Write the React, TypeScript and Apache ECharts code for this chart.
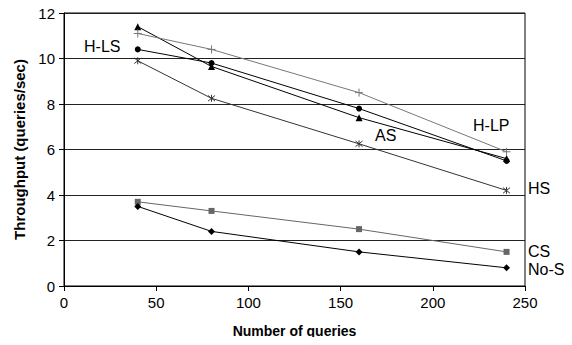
import React, { useEffect, useRef } from "react";
import * as echarts from "echarts";

const queries = [40, 80, 160, 240];
const hlsValues = [10.4, 9.8, 7.8, 5.5];
const asValues = [11.4, 9.65, 7.4, 5.6];
const hlpValues = [11.1, 10.4, 8.5, 5.9];
const hsValues = [9.9, 8.25, 6.25, 4.2];
const csValues = [3.7, 3.3, 2.5, 1.5];
const nosValues = [3.5, 2.4, 1.5, 0.8];
const seriesNames = ["H-LS", "AS", "H-LP", "HS", "CS", "No-S"];

const PLUS = "path://M0,-5 L0,5 M-5,0 L5,0";
const STAR = "path://M-4,-4 L4,4 M-4,4 L4,-4 M0,-5 L0,5";

function pairs(vals: number[]) {
  return queries.map((q, i) => [q, vals[i]]);
}

export default function App() {
  const ref = useRef<HTMLDivElement>(null);
  useEffect(() => {
    if (!ref.current) return;
    const chart = echarts.init(ref.current, undefined, { renderer: "svg" });
    const font = "Liberation Sans";
    const mk = (
      name: string,
      vals: number[],
      color: string,
      symbol: string,
      size: number,
      stroke = false
    ) => ({
      name,
      type: "line",
      data: pairs(vals),
      symbol,
      symbolSize: size,
      showSymbol: true,
      lineStyle: { color, width: 1 },
      itemStyle: stroke
        ? { color: color, borderColor: color, borderWidth: 1 }
        : { color, borderWidth: 0 },
      z: 3,
    });
    const lbl = (text: string, left: number, top: number) => ({
      type: "text",
      left,
      top,
      style: { text, fontFamily: font, fontSize: 16, fill: "#000" },
    });
    chart.setOption({
      animation: false,
      backgroundColor: "#fff",
      grid: {
        left: 64,
        right: 47,
        top: 13,
        bottom: 59,
        show: true,
        borderColor: "#000",
        borderWidth: 1,
      },
      xAxis: {
        type: "value",
        min: 0,
        max: 250,
        interval: 50,
        name: "Number of queries",
        nameLocation: "middle",
        nameGap: 38,
        nameTextStyle: { fontFamily: font, fontWeight: "bold", fontSize: 14, color: "#000" },
        axisLine: { lineStyle: { color: "#000" } },
        axisTick: { show: true, length: 5, lineStyle: { color: "#000" } },
        axisLabel: { fontFamily: font, fontSize: 15, color: "#000", margin: 9 },
        splitLine: { show: false },
      },
      yAxis: {
        type: "value",
        min: 0,
        max: 12,
        interval: 2,
        name: "Throughput (queries/sec)",
        nameLocation: "middle",
        nameGap: 36,
        nameTextStyle: { fontFamily: font, fontWeight: "bold", fontSize: 15, color: "#000" },
        axisLine: { show: true, lineStyle: { color: "#000" } },
        axisTick: { show: true, length: 5, lineStyle: { color: "#000" } },
        axisLabel: { fontFamily: font, fontSize: 15, color: "#000", margin: 9 },
        splitLine: { show: true, lineStyle: { color: "#222", width: 1 } },
      },
      series: [
        mk(seriesNames[0], hlsValues, "#000", "circle", 6),
        mk(seriesNames[1], asValues, "#000", "triangle", 7),
        mk(seriesNames[2], hlpValues, "#777", PLUS, 8, true),
        mk(seriesNames[3], hsValues, "#333", STAR, 7, true),
        mk(seriesNames[4], csValues, "#666", "rect", 6),
        mk(seriesNames[5], nosValues, "#000", "diamond", 7),
      ],
      graphic: [
        lbl(seriesNames[0], 84, 38),
        lbl(seriesNames[1], 375, 127),
        lbl(seriesNames[2], 473, 117),
        lbl(seriesNames[3], 528, 180),
        lbl(seriesNames[4], 528, 243),
        lbl(seriesNames[5], 528, 261),
      ],
    });
    return () => chart.dispose();
  }, []);
  return <div ref={ref} style={{ width: 572, height: 345, margin: -8 }} />;
}
